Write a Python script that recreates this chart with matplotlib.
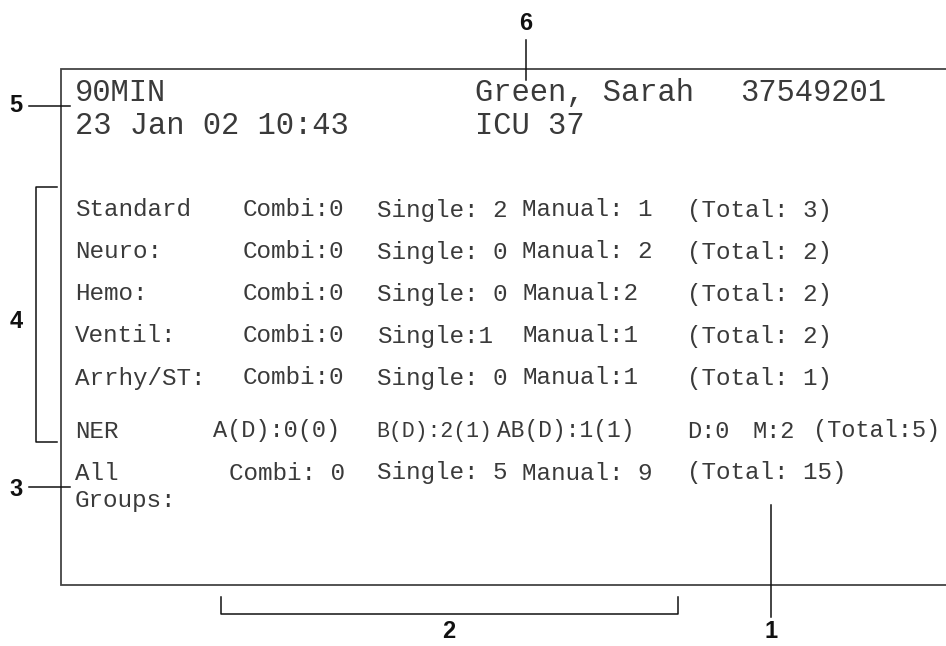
import matplotlib

matplotlib.use("Agg")
import matplotlib.pyplot as plt

# header lines of the display
header_left = ["90MIN", "23 Jan 02 10:43"]
patient_name = "Green, Sarah"
patient_id = "37549201"
bed = "ICU 37"

# alarm group rows
groups = ["Standard", "Neuro:", "Hemo:", "Ventil:", "Arrhy/ST:"]
combi = [0, 0, 0, 0, 0]
single = [2, 0, 0, 1, 0]
manual = [1, 2, 2, 1, 1]
totals = [3, 2, 2, 2, 1]
single_sep = [" ", " ", " ", "", " "]
manual_sep = [" ", " ", "", "", ""]

# NER row
ner_cells = ["A(D):0(0)", "B(D):2(1)", "AB(D):1(1)", "D:0", "M:2", "(Total:5)"]

# all groups row
all_combi, all_single, all_manual, all_total = 0, 5, 9, 15

W, H = 946, 646
fig = plt.figure(figsize=(W / 100, H / 100), dpi=100)
ax = fig.add_axes([0, 0, 1, 1])
ax.set_xlim(0, W)
ax.set_ylim(H, 0)
ax.axis("off")

mono = "Liberation Mono"
txt_col = "#3a3a3a"
line_col = "#444444"
lw = 1.1

# display frame (open on the right)
ax.plot([W + 5, 61, 61, W + 5], [69, 69, 585, 585], color=line_col, lw=1.3, solid_joinstyle="miter")

# header
hs = 22
ax.text(75, 93, header_left[0], fontsize=hs, family=mono, color=txt_col, va="center")
ax.text(75, 126, header_left[1], fontsize=hs, family=mono, color=txt_col, va="center")
ax.text(475, 93, patient_name, fontsize=hs, family=mono, color=txt_col, va="center")
ax.text(740, 93, patient_id, fontsize=hs, family=mono, color=txt_col, va="center")
ax.text(475, 126, bed, fontsize=hs, family=mono, color=txt_col, va="center")

# group rows
bs = 17.5
row_y = [210, 252, 294, 336, 378]
for i, y in enumerate(row_y):
    ax.text(75, y, groups[i], fontsize=bs, family=mono, color=txt_col, va="center")
    ax.text(243, y, f"Combi:{combi[i]}", fontsize=bs, family=mono, color=txt_col, va="center")
    ax.text(377, y, f"Single:{single_sep[i]}{single[i]}", fontsize=bs, family=mono, color=txt_col, va="center")
    ax.text(522, y, f"Manual:{manual_sep[i]}{manual[i]}", fontsize=bs, family=mono, color=txt_col, va="center")
    ax.text(687, y, f"(Total: {totals[i]})", fontsize=bs, family=mono, color=txt_col, va="center")

# NER row (the display squeezes this row a little)
ner_y = 431
ner_x = [213, 376, 497, 687, 752, 813]
ner_fs = [17, 15.5, 16.5, 17, 17, 17]
ax.text(75, ner_y, "NER", fontsize=bs, family=mono, color=txt_col, va="center")
for x, s, f in zip(ner_x, ner_cells, ner_fs):
    ax.text(x, ner_y, s, fontsize=f, family=mono, color=txt_col, va="center")

# all groups row
all_y = 473
ax.text(75, all_y, "All", fontsize=bs, family=mono, color=txt_col, va="center")
ax.text(75, 500, "Groups:", fontsize=bs, family=mono, color=txt_col, va="center")
ax.text(229, all_y, f"Combi: {all_combi}", fontsize=bs, family=mono, color=txt_col, va="center")
ax.text(377, all_y, f"Single: {all_single}", fontsize=bs, family=mono, color=txt_col, va="center")
ax.text(522, all_y, f"Manual: {all_manual}", fontsize=bs, family=mono, color=txt_col, va="center")
ax.text(687, all_y, f"(Total: {all_total})", fontsize=bs, family=mono, color=txt_col, va="center")

# callouts
cs = 17
cfont = dict(fontsize=cs, fontweight="bold", family="Liberation Sans", color="#111111",
             ha="center", va="center")
# 6
ax.text(526, 24, "6", **cfont)
ax.plot([526, 526], [40, 80], color="#111111", lw=lw)
# 5
ax.text(16, 106, "5", **cfont)
ax.plot([29, 70], [106, 106], color="#111111", lw=lw)
# 4 bracket
ax.text(16, 322, "4", **cfont)
ax.plot([57, 36, 36, 57], [187, 187, 442, 442], color="#111111", lw=lw)
# 3
ax.text(16, 489, "3", **cfont)
ax.plot([29, 70], [487, 487], color="#111111", lw=lw)
# 2 bracket
ax.text(449, 632, "2", **cfont)
ax.plot([221, 221, 678, 678], [597, 614, 614, 597], color="#111111", lw=lw)
# 1
ax.text(771, 632, "1", **cfont)
ax.plot([771, 771], [505, 617], color="#111111", lw=lw)

fig.savefig("out.png", dpi=100)
plt.close(fig)
